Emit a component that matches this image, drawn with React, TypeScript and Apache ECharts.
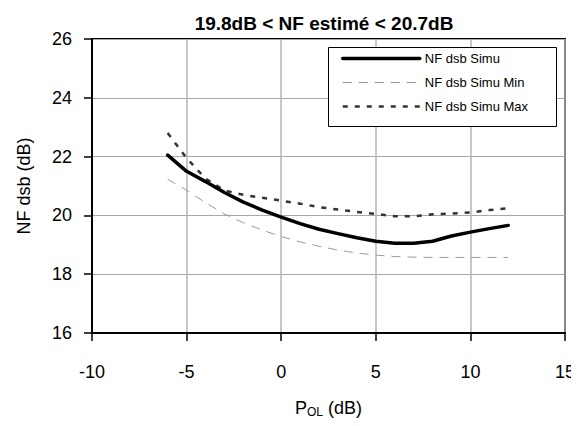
import React, { useEffect, useRef } from "react";
import * as echarts from "echarts";

const xValues = [-6, -5, -4, -3, -2, -1, 0, 1, 2, 3, 4, 5, 6, 7, 8, 9, 10, 11, 12];
const simu = [22.05, 21.5, 21.15, 20.78, 20.45, 20.18, 19.94, 19.72, 19.53, 19.38, 19.24, 19.12, 19.05, 19.05, 19.12, 19.3, 19.43, 19.55, 19.66];
const simuMin = [21.23, 20.86, 20.43, 20.05, 19.75, 19.5, 19.28, 19.1, 18.95, 18.82, 18.72, 18.65, 18.6, 18.58, 18.57, 18.57, 18.57, 18.57, 18.57];
const simuMax = [22.8, 21.95, 21.25, 20.85, 20.7, 20.6, 20.5, 20.4, 20.28, 20.2, 20.12, 20.05, 19.97, 19.97, 20.04, 20.06, 20.1, 20.18, 20.24];
const seriesNames = ["NF dsb Simu", "NF dsb Simu Min", "NF dsb Simu Max"];
const titleText = "19.8dB < NF estimé < 20.7dB";

const FONT = "'Liberation Sans', Arial, sans-serif";

const simuLine = { color: "#000", width: 3.5, type: "solid" as const, cap: "round" as const, join: "round" as const };
const minLine = { color: "#999", width: 1, type: [9, 7] };
const maxLine = { color: "#333", width: 2.5, type: [5, 7] };

export default function App() {
  const ref = useRef<HTMLDivElement>(null);
  useEffect(() => {
    if (!ref.current) return;
    const chart = echarts.init(ref.current, null, { renderer: "svg" });
    const pairs = (ys: number[]) => xValues.map((x, i) => [x, ys[i]]);
    chart.setOption({
      animation: false,
      backgroundColor: "#fff",
      textStyle: { fontFamily: FONT },
      grid: {
        left: 92,
        top: 39,
        right: 14,
        bottom: 93,
        show: true,
        borderColor: "#000",
        borderWidth: 2,
        backgroundColor: "transparent",
      },
      graphic: [
        {
          type: "text",
          x: 324,
          y: 23,
          z: 10,
          style: {
            text: titleText,
            font: `bold 19px ${FONT}`,
            fill: "#000",
            textAlign: "center",
            textVerticalAlign: "middle",
          },
        },
        {
          type: "rect",
          z: 3,
          shape: { x: 328.5, y: 47.5, width: 228, height: 79 },
          style: { fill: "#fff", stroke: "#000", lineWidth: 1 },
        },
      ],
      legend: {
        orient: "vertical",
        left: 328,
        top: 47,
        padding: [5, 8, 11, 13],
        itemWidth: 77,
        itemHeight: 14,
        itemGap: 11,
        z: 5,
        itemStyle: { opacity: 0 },
        data: [
          { name: seriesNames[0], lineStyle: { width: 3.5, color: "#000", type: "solid" } },
          { name: seriesNames[1], lineStyle: { width: 1, color: "#999", type: [9, 7] } },
          { name: seriesNames[2], lineStyle: { width: 2.5, color: "#333", type: [5, 7] } },
        ],
        textStyle: { fontFamily: FONT, fontSize: 13, color: "#000" },
      },
      xAxis: {
        type: "value",
        min: -10,
        max: 15,
        interval: 5,
        name: "P{sub|OL} (dB)",
        nameLocation: "middle",
        nameGap: 65,
        nameTextStyle: {
          fontFamily: FONT,
          fontSize: 18,
          color: "#000",
          rich: {
            sub: { fontFamily: FONT, fontSize: 12, color: "#000", verticalAlign: "bottom", padding: [8, 0, 0, 0] },
          },
        },
        axisLine: { show: true, onZero: false, lineStyle: { color: "#000", width: 2 } },
        axisTick: { show: true, inside: false, length: 8, lineStyle: { color: "#000", width: 1.5 } },
        axisLabel: { fontFamily: FONT, fontSize: 18, color: "#000", margin: 30 },
        splitLine: { show: true, lineStyle: { color: "#b4b4b4", width: 1.5 } },
      },
      yAxis: {
        type: "value",
        min: 16,
        max: 26,
        interval: 2,
        name: "NF dsb (dB)",
        nameLocation: "middle",
        nameGap: 59,
        nameTextStyle: { fontFamily: FONT, fontSize: 18, color: "#000" },
        axisLine: { show: true, onZero: false, lineStyle: { color: "#000", width: 2 } },
        axisTick: { show: true, inside: false, length: 8, lineStyle: { color: "#000", width: 1.5 } },
        axisLabel: { fontFamily: FONT, fontSize: 18, color: "#000", margin: 20 },
        splitLine: { show: true, lineStyle: { color: "#a8a8a8", width: 1 } },
      },
      series: [
        {
          name: seriesNames[0],
          type: "line",
          data: pairs(simu),
          symbol: "none",
          z: 4,
          lineStyle: simuLine,
          itemStyle: { color: "#000" },
        },
        {
          name: seriesNames[1],
          type: "line",
          data: pairs(simuMin),
          symbol: "none",
          z: 3,
          lineStyle: minLine,
          itemStyle: { color: "#999" },
        },
        {
          name: seriesNames[2],
          type: "line",
          data: pairs(simuMax),
          symbol: "none",
          z: 3,
          lineStyle: maxLine,
          itemStyle: { color: "#333" },
        },
      ],
    });
    return () => chart.dispose();
  }, []);
  return <div ref={ref} style={{ width: 579, height: 426, margin: -8 }} />;
}
